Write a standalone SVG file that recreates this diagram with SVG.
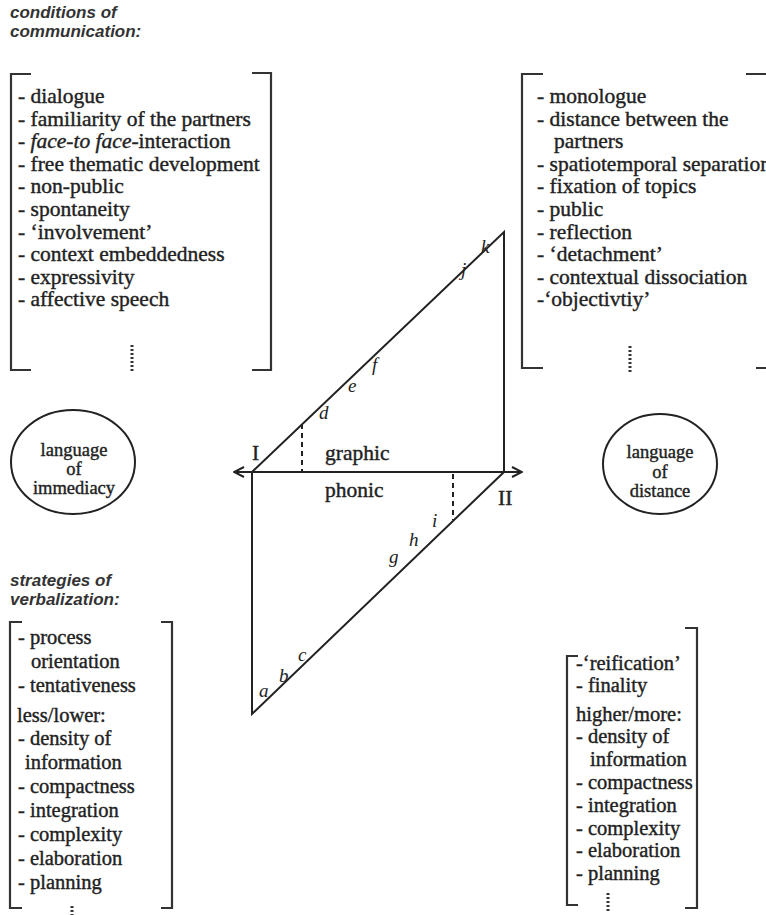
<svg xmlns="http://www.w3.org/2000/svg" width="766" height="915" viewBox="0 0 766 915">
<defs>
<style>
.t{font-family:"Liberation Serif","Times New Roman",serif;font-size:21.5px;fill:#222;stroke:#222;stroke-width:0.4}
.s{font-size:20.5px}
.e{font-size:18.5px}
.i{font-style:italic}
.h{font-family:"Liberation Sans",Arial,sans-serif;font-style:italic;font-weight:bold;font-size:17px;fill:#333}
.lab{font-family:"Liberation Serif","Times New Roman",serif;font-style:italic;font-size:19px;fill:#222}
.ln{stroke:#222;stroke-width:2;fill:none}
.br{stroke:#333;stroke-width:2.2;fill:none}
.dash{stroke:#222;stroke-width:2;stroke-dasharray:5 4;fill:none}
.dots{stroke:#333;stroke-width:3;stroke-dasharray:2 2;fill:none}
.c{text-anchor:middle}
</style>
<marker id="open" viewBox="0 0 12 12" refX="11" refY="6" markerWidth="12" markerHeight="12" markerUnits="userSpaceOnUse" orient="auto-start-reverse">
<path d="M1,1 L11,6 L1,11" fill="none" stroke="#222" stroke-width="2"/>
</marker>
</defs>
<rect width="766" height="915" fill="#fff"/>

<g id="conditions-header">
<text class="h" x="10" y="18">conditions of</text>
<text class="h" x="10" y="37">communication:</text>
</g>

<g id="immediacy-conditions">
<path class="br" d="M31,74 H11 V370 H31"/>
<path class="br" d="M252,73 H271 V370 H252"/>
<text class="t" x="18" y="103">- dialogue</text>
<text class="t" x="18" y="126">- familiarity of the partners</text>
<text class="t" x="18" y="148">- <tspan class="i">face-to face</tspan>-interaction</text>
<text class="t" x="18" y="171">- free thematic development</text>
<text class="t" x="18" y="193">- non-public</text>
<text class="t" x="18" y="216">- spontaneity</text>
<text class="t" x="18" y="239">- ‘involvement’</text>
<text class="t" x="18" y="261">- context embeddedness</text>
<text class="t" x="18" y="284">- expressivity</text>
<text class="t" x="18" y="306">- affective speech</text>
<path class="dots" d="M132,345 V373"/>
</g>

<g id="distance-conditions">
<path class="br" d="M543,74 H522 V368 H543"/>
<path class="br" d="M746,74 H769 V368 H756"/>
<text class="t" x="537" y="103">- monologue</text>
<text class="t" x="537" y="126">- distance between the</text>
<text class="t" x="554" y="148">partners</text>
<text class="t" x="537" y="171">- spatiotemporal separation</text>
<text class="t" x="537" y="193">- fixation of topics</text>
<text class="t" x="537" y="216">- public</text>
<text class="t" x="537" y="239">- reflection</text>
<text class="t" x="537" y="261">- ‘detachment’</text>
<text class="t" x="537" y="284">- contextual dissociation</text>
<text class="t" x="537" y="306">-‘objectivtiy’</text>
<path class="dots" d="M630,346 V374"/>
</g>

<g id="immediacy">
<ellipse class="ln" cx="73" cy="462" rx="62" ry="52"/>
<text class="t e c" x="74" y="456">language</text>
<text class="t e c" x="74" y="475">of</text>
<text class="t e c" x="74" y="494">immediacy</text>
</g>

<g id="distance">
<ellipse class="ln" cx="660" cy="464" rx="57" ry="50"/>
<text class="t e c" x="660" y="458">language</text>
<text class="t e c" x="660" y="478">of</text>
<text class="t e c" x="660" y="497">distance</text>
</g>

<g id="medium-diagram">
<path class="ln" d="M252,472 L504,232 V472"/>
<path class="ln" d="M252,472 V714 L504,472"/>
<path class="dash" d="M302,424 V471"/>
<path class="dash" d="M453,474 V520"/>
<text class="t" x="252" y="460">I</text>
<text class="t" x="325" y="460">graphic</text>
<text class="t" x="325" y="497">phonic</text>
<text class="t" x="498" y="505">II</text>
<text class="lab" x="259" y="697">a</text>
<text class="lab" x="279" y="682">b</text>
<text class="lab" x="298" y="661">c</text>
<text class="lab" x="389" y="563">g</text>
<text class="lab" x="409" y="546">h</text>
<text class="lab" x="432" y="527">i</text>
<text class="lab" x="319" y="419">d</text>
<text class="lab" x="348" y="392">e</text>
<text class="lab" x="372" y="371">f</text>
<text class="lab" x="461" y="276">j</text>
<text class="lab" x="481" y="253">k</text>
</g>

<g id="connectors">
<path class="ln" d="M234,472 H522" marker-start="url(#open)" marker-end="url(#open)"/>
</g>

<g id="strategies-header">
<text class="h" x="10" y="586">strategies of</text>
<text class="h" x="10" y="605">verbalization:</text>
</g>

<g id="immediacy-strategies">
<path class="br" d="M22,622 H10 V908 H22"/>
<path class="br" d="M161,622 H172 V908 H161"/>
<text class="t s" x="18" y="644">- process</text>
<text class="t s" x="31" y="668">orientation</text>
<text class="t s" x="18" y="692">- tentativeness</text>
<text class="t s" x="17" y="722">less/lower:</text>
<text class="t s" x="18" y="745">- density of</text>
<text class="t s" x="25" y="769">information</text>
<text class="t s" x="18" y="793">- compactness</text>
<text class="t s" x="18" y="817">- integration</text>
<text class="t s" x="18" y="841">- complexity</text>
<text class="t s" x="18" y="865">- elaboration</text>
<text class="t s" x="18" y="889">- planning</text>
<path class="dots" d="M72,906 V915"/>
</g>

<g id="distance-strategies">
<path class="br" d="M578,656 H567 V905 H578"/>
<path class="br" d="M685,628 H697 V908 H685"/>
<text class="t s" x="576" y="670">-‘reification’</text>
<text class="t s" x="576" y="692">- finality</text>
<text class="t s" x="576" y="721">higher/more:</text>
<text class="t s" x="576" y="743">- density of</text>
<text class="t s" x="590" y="766">information</text>
<text class="t s" x="576" y="789">- compactness</text>
<text class="t s" x="576" y="812">- integration</text>
<text class="t s" x="576" y="835">- complexity</text>
<text class="t s" x="576" y="857">- elaboration</text>
<text class="t s" x="576" y="880">- planning</text>
<path class="dots" d="M608,893 V912"/>
</g>
</svg>
